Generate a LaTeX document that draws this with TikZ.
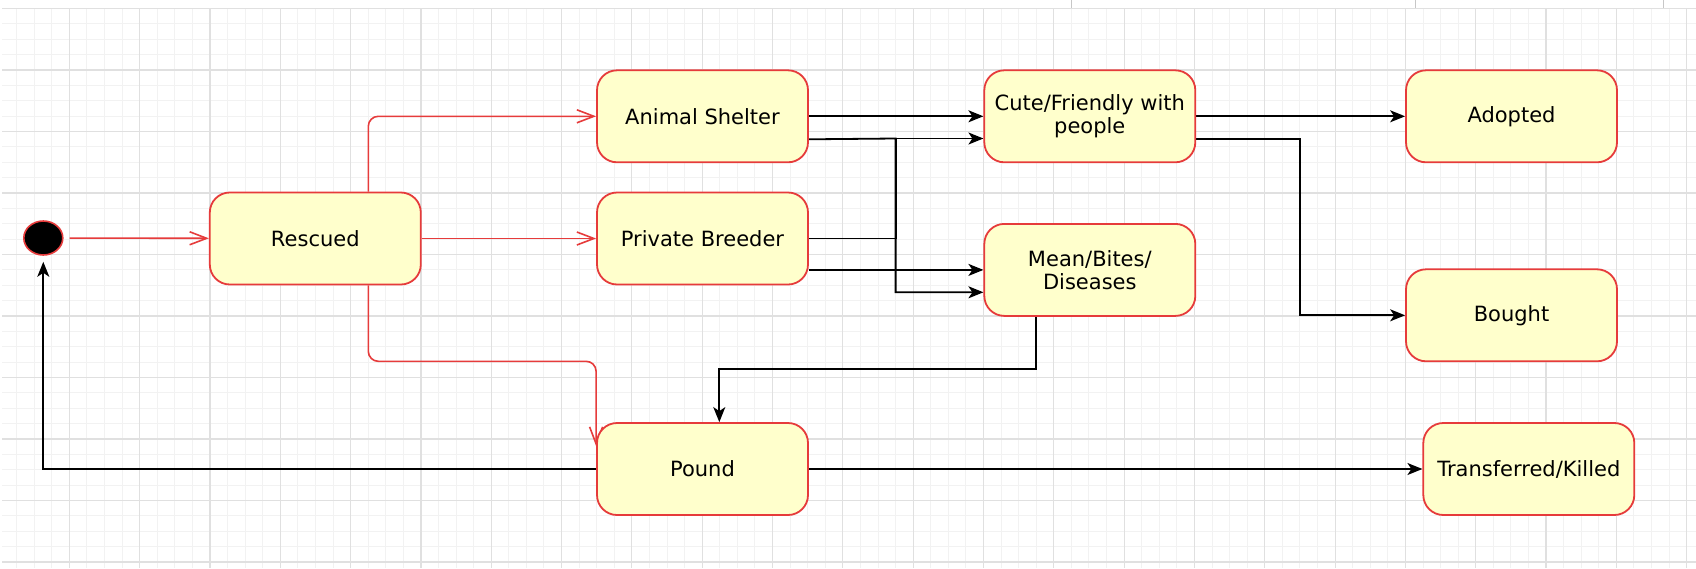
\documentclass[tikz,border=0pt]{standalone}
\usepackage{fontspec}
\setmainfont{DejaVu Sans}
\usetikzlibrary{arrows.meta,shapes.geometric,backgrounds}

\definecolor{statefill}{HTML}{FFFFCC}
\definecolor{statered}{HTML}{E63B3B}

\begin{document}
\begin{tikzpicture}[x=0.5pt,y=-0.5pt,
  state/.style={draw=statered, fill=statefill, line width=0.9pt, rounded corners=10pt,
    minimum width=105.5pt, minimum height=46pt, inner sep=2pt, align=center,
    font=\fontsize{10.5}{11.5}\selectfont},
  start/.style={ellipse, draw=statered, fill=black, line width=0.8pt,
    minimum width=19.5pt, minimum height=17pt, inner sep=0pt},
  redflow/.style={statered, line width=0.8pt, rounded corners=5pt,
    -{Straight Barb[length=8.5pt,width=6.5pt]}},
  blackflow/.style={black, line width=0.9pt, -{Stealth[length=7.5pt,width=6pt,inset=2pt]}},
  gridminor/.style={black!5, line width=0.5pt},
  gridmajor/.style={black!12, line width=0.6pt}]

\useasboundingbox (0,0) rectangle (1696,568);

\node [start] (init) at (43.3,238) {};
\node [state] (rescued) at (315.3,238.5) {Rescued};
\node [state] (shelter) at (702.5,116.3) {Animal Shelter};
\node [state] (breeder) at (702.5,238.5) {Private Breeder};
\node [state] (pound) at (702.5,469) {Pound};
\node [state] (cute) at (1089.8,116.3) {Cute/Friendly with\\people};
\node [state] (mean) at (1089.8,269.9) {Mean/Bites/\\Diseases};
\node [state] (adopted) at (1511.5,116.3) {Adopted};
\node [state] (bought) at (1511.5,315.3) {Bought};
\node [state] (transferred) at (1528.8,469) {Transferred/Killed};

\coordinate (rtap) at (368.3,0);
\coordinate (rlow) at (0,361.3);
\coordinate (jtop) at (895.6,138.5);
\coordinate (jbot) at (895.6,292.3);
\coordinate (mtap) at (1036.2,0);
\coordinate (ptap) at (719.3,368.8);
\coordinate (bx) at (1300.3,0);

\begin{pgfonlayer}{background}
% grid
\fill [white] (0,0) rectangle (1696,568);
\foreach \i in {1,...,97} \draw [gridminor] ({-1+17.58*\i},9) -- ({-1+17.58*\i},568);
\foreach \j in {0,...,36} \draw [gridminor] (2,{8.5+15.375*\j}) -- (1696,{8.5+15.375*\j});
\foreach \i in {1,...,24} \draw [gridmajor] ({-1+70.32*\i},9) -- ({-1+70.32*\i},568);
\foreach \j in {0,...,9} \draw [gridmajor] (2,{8.5+61.5*\j}) -- (1696,{8.5+61.5*\j});
\foreach \x in {1071,1415,1663} \draw [black!22, line width=0.5pt] (\x,0) -- (\x,8);

% rescued and where it goes
\draw [redflow, shorten <=3pt] (init) -- (rescued);
\draw [redflow] (rescued.north -| rtap) |- (shelter);
\draw [redflow] (rescued) -- (breeder);
\draw [redflow] (rescued.south -| rtap) |- (pound.north west |- rlow) -- ([yshift=-12pt]pound.north west);

% shelter and breeder
\draw [blackflow] (shelter) -- (cute);
\draw [blackflow] ([yshift=-11.5pt]shelter.east) -- (jtop) -- (jbot) -- (mean.west |- jbot);
\draw [blackflow] (breeder) -| (jtop) -- (cute.west |- jtop);
\draw [blackflow] (breeder.east |- mean) -- (mean);

% outcomes
\draw [blackflow] (cute) -- (adopted);
\draw [blackflow] ([yshift=-11.5pt]cute.east) -| (bx |- bought) -- (bought);
\draw [blackflow] (mean.south -| mtap) |- (ptap) -- (ptap |- pound.north);
\draw [blackflow] (pound) -- (transferred);
\draw [blackflow, shorten >=3pt] (pound) -| (init);
\end{pgfonlayer}

\end{tikzpicture}
\end{document}
